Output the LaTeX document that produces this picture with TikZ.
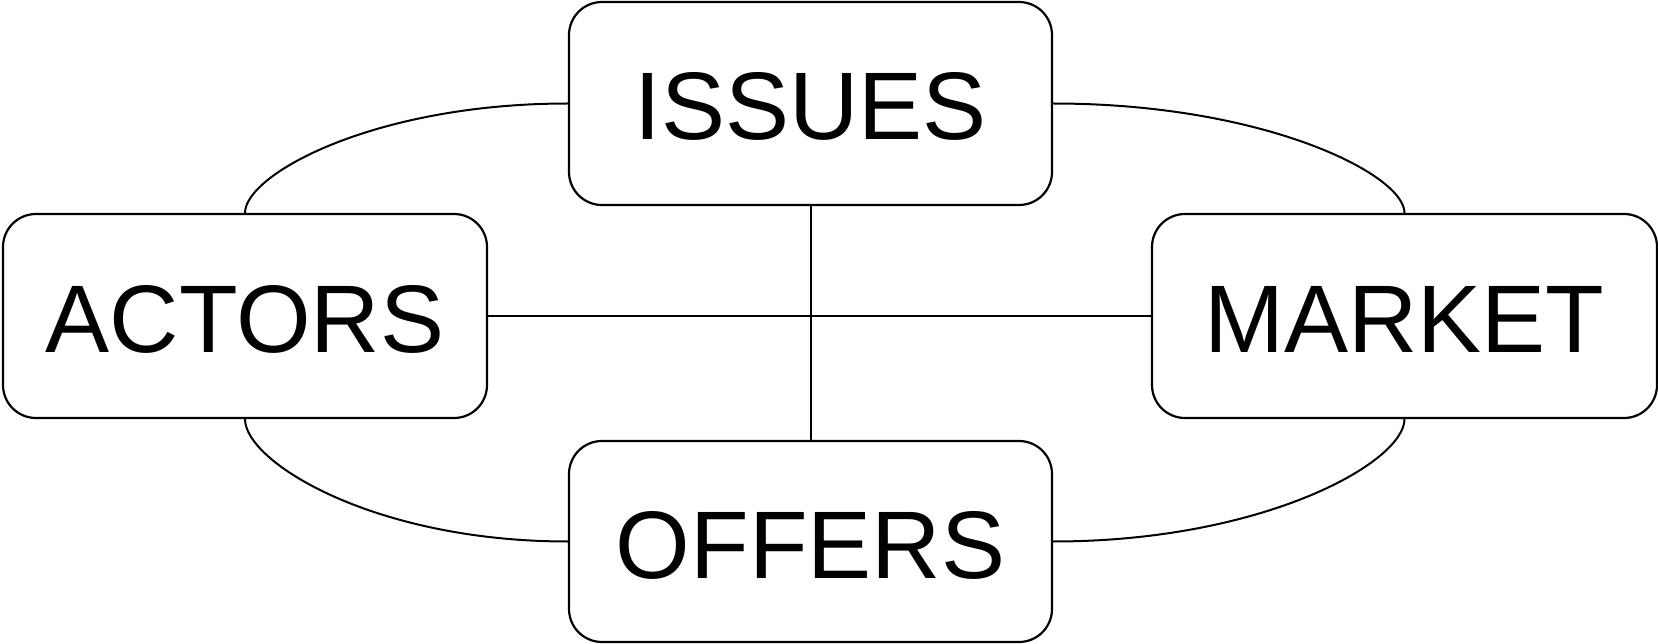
\documentclass[tikz,border=0pt]{standalone}
\usepackage{fontspec}
\setmainfont{Liberation Sans}
\begin{document}
\begin{tikzpicture}[x=1pt,y=-1pt,
  topic/.style={draw=black, line width=2.2pt, rounded corners=33pt, fill=white,
    inner sep=0pt, text height=73pt, text depth=0pt,
    font=\fontsize{96}{110}\selectfont},
  link/.style={draw=black, line width=2pt}]
  \useasboundingbox (0,0) rectangle (1658,644);

  % the four topic boxes
  \node[topic, minimum width=483pt, minimum height=203pt] (issues) at (810.5,103.5) {ISSUES};
  \node[topic, minimum width=484pt, minimum height=204pt] (actors) at (245,316) {ACTORS};
  \node[topic, minimum width=505pt, minimum height=204pt] (market) at (1404.5,316) {MARKET};
  \node[topic, minimum width=483pt, minimum height=201pt] (offers) at (810.5,541.5) {OFFERS};

  % straight cross links
  \path[link] (actors.east) -- (market.west);
  \path[link] (issues.south) -- (offers.north);

  % curved ring links
  \path[link] (actors.north) to[out=90, in=180, out distance=38.5pt, in distance=194pt] (issues.west);
  \path[link] (issues.east) to[out=0, in=90, out distance=211pt, in distance=38.5pt] (market.north);
  \path[link] (actors.south) to[out=-90, in=180, out distance=43pt, in distance=194pt] (offers.west);
  \path[link] (market.south) to[out=-90, in=0, out distance=43pt, in distance=211pt] (offers.east);
\end{tikzpicture}
\end{document}
